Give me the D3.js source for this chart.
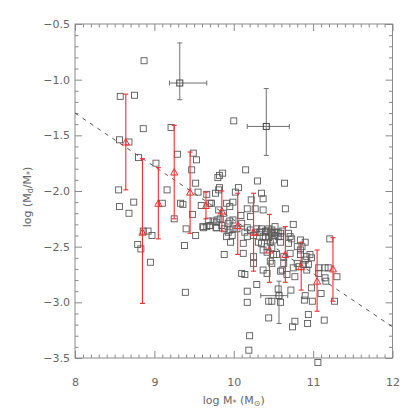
<!DOCTYPE html>
<html>
<head>
<meta charset="utf-8">
<script src="https://cdn.jsdelivr.net/npm/d3@7"></script>
<style>
body{margin:0;background:#fff;}
svg text{font-family:"DejaVu Sans",sans-serif;fill:#666;}
</style>
</head>
<body>
<div id="chart"></div>
<script>
// ---- data (log M*, log Md/M*) ----
const sqX = [8.87,8.57,8.75,8.86,9.21,10.0,8.56,8.68,
 8.80,9.02,9.29,9.49,9.53,9.47,9.80,9.52,9.55,9.16,8.55,8.74,8.56,8.68,9.10,9.33,9.36,9.48,9.59,9.70,9.25,9.61,9.70,9.78,9.79,9.40,9.52,8.86,8.92,8.97,8.79,8.83,9.38,8.95,9.81,9.39,
 9.86,9.82,10.15,10.30,10.64,9.82,10.06,9.66,9.77,10.02,10.35,10.37,10.22,9.72,9.91,9.99,9.95,9.81,9.87,10.17,10.27,10.37,10.65,10.09,10.21,
 9.62,9.70,9.78,9.85,9.93,9.99,10.10,10.17,10.29,10.33,10.42,10.48,10.61,9.91,9.98,10.17,10.25,10.40,10.56,10.71,
 9.96,10.12,10.31,10.46,10.59,10.69,10.80,11.21,9.88,10.12,10.25,10.42,10.54,10.71,10.92,10.25,10.46,10.63,10.82,10.94,11.07,11.15,
 10.10,10.14,10.42,10.59,11.15,
 10.29,10.17,10.17,10.44,10.48,10.59,10.44,10.20,10.19,11.06,10.72,10.77,10.74,10.93,10.94,10.90,10.89,10.99,10.98,11.10,11.14,11.16,11.27,10.56,
 9.83,9.78,9.66,9.99,9.93,10.14,10.51,
 10.75,10.84,10.90,10.86,10.69,10.73,10.96,10.98,10.88,10.63,10.50,10.48,10.37,10.61,10.67,10.75,10.92,11.19,11.07,11.30,10.77,10.80,
 10.84,10.90,10.84,
 9.68,9.74,9.95,9.88,9.95,10.04,10.21,10.27,10.33,10.40,10.46,10.52,10.59,
 10.35,10.40,10.44,10.48,10.37,10.44,10.50,10.35,10.42,10.48,10.37,10.52,10.56,10.59,10.52];
const sqY = [-0.83,-1.15,-1.14,-1.44,-1.43,-1.37,-1.54,-1.56,
 -1.70,-1.75,-1.67,-1.66,-1.72,-1.81,-1.88,-1.93,-2.01,-1.99,-1.99,-2.10,-2.14,-2.20,-2.11,-2.11,-2.12,-2.21,-2.13,-2.11,-2.25,-2.32,-2.31,-2.33,-2.26,-2.34,-2.40,-2.36,-2.36,-2.40,-2.48,-2.52,-2.49,-2.64,-1.99,-2.91,
 -1.84,-1.86,-1.81,-1.91,-1.93,-1.97,-1.97,-2.03,-2.02,-2.01,-2.02,-2.07,-2.08,-2.11,-2.11,-2.10,-2.14,-2.17,-2.20,-2.16,-2.16,-2.17,-2.16,-2.22,-2.23,
 -2.33,-2.31,-2.33,-2.31,-2.29,-2.26,-2.29,-2.33,-2.34,-2.37,-2.36,-2.35,-2.36,-2.41,-2.40,-2.41,-2.40,-2.41,-2.41,-2.41,
 -2.46,-2.47,-2.46,-2.46,-2.46,-2.47,-2.50,-2.43,-2.57,-2.56,-2.59,-2.55,-2.57,-2.56,-2.59,-2.65,-2.63,-2.65,-2.68,-2.66,-2.69,-2.69,
 -2.74,-2.75,-2.74,-2.72,-2.78,
 -2.84,-2.90,-3.00,-2.99,-2.99,-3.00,-3.14,-3.30,-3.43,-3.54,-2.89,-3.17,-3.22,-3.19,-3.11,-2.94,-2.98,-2.99,-2.87,-2.92,-3.16,-2.81,-2.99,-2.88,
 -2.25,-2.28,-2.32,-2.34,-2.37,-2.37,-2.37,
 -2.30,-2.44,-2.46,-2.50,-2.38,-2.43,-2.57,-2.60,-2.66,-2.59,-2.57,-2.65,-2.71,-2.71,-2.75,-2.69,-2.71,-2.69,-2.74,-2.77,-2.77,-2.65,
 -2.57,-2.62,-2.53,
 -2.27,-2.27,-2.27,-2.34,-2.35,-2.34,-2.35,-2.37,-2.37,-2.36,-2.37,-2.37,-2.38,
 -2.34,-2.37,-2.34,-2.38,-2.41,-2.42,-2.44,-2.47,-2.50,-2.51,-2.53,-2.32,-2.37,-2.41,-2.40];

// binned medians (red triangles) with ranges
const binX  = [8.64,8.85,9.05,9.25,9.45,9.65,9.85,10.05,10.25,10.45,10.65,10.85,11.05,11.25];
const binY  = [-1.56,-2.37,-2.11,-1.83,-2.01,-2.13,-2.18,-2.31,-2.37,-2.53,-2.57,-2.68,-2.81,-2.70];
const binHi = [-1.13,-1.71,-1.79,-1.41,-1.65,-2.01,-2.00,-2.02,-2.02,-2.21,-2.32,-2.46,-2.53,-2.42];
const binLo = [-1.99,-3.01,-2.43,-2.25,-2.38,-2.25,-2.36,-2.57,-2.72,-2.82,-2.82,-2.89,-3.08,-2.99];

// representative error crosses
const errX   = [9.32,10.41,10.57];
const errY   = [-1.03,-1.42,-2.94];
const errXlo = [9.19,10.17,10.34];
const errXhi = [9.66,10.70,10.68];
const errYlo = [-1.18,-1.68,-3.19];
const errYhi = [-0.67,-1.08,-2.81];

// fit line
const fitX = [8,12];
const fitY = [-1.30,-3.22];

const xTicks = [8,9,10,11,12];
const yTicks = [-3.5,-3.0,-2.5,-2.0,-1.5,-1.0,-0.5];

// ---- drawing ----
const W=415,H=415;
const L=75,R=392.5,T=24,B=358;
const svg=d3.select("#chart").append("svg").attr("width",W).attr("height",H);
const x=d3.scaleLinear().domain([8,12]).range([L,R]);
const y=d3.scaleLinear().domain([-3.5,-0.5]).range([B,T]);
const axisCol="#8a8a8a";

// frame
svg.append("rect").attr("x",L).attr("y",T).attr("width",R-L).attr("height",B-T)
  .attr("fill","none").attr("stroke",axisCol).attr("stroke-width",1);

// ticks (inward) via d3 axes
const minorX=d3.range(8,12.001,0.1).filter(v=>Math.abs(v-Math.round(v))>1e-6);
const minorY=d3.range(-3.5,-0.499,0.1).filter(v=>Math.abs(v*2-Math.round(v*2))>1e-6);
function styleAx(g){g.select(".domain").remove();g.selectAll("line").attr("stroke",axisCol);}
svg.append("g").attr("transform",`translate(0,${B})`).call(d3.axisBottom(x).tickValues(xTicks).tickSize(-7).tickFormat(d3.format("d")).tickPadding(20))
  .call(styleAx).call(g=>g.selectAll("text").attr("font-size",11).attr("fill","#666").attr("font-family","DejaVu Sans"));
svg.append("g").attr("transform",`translate(0,${B})`).call(d3.axisBottom(x).tickValues(minorX).tickSize(-3.5).tickFormat("")).call(styleAx);
svg.append("g").attr("transform",`translate(0,${T})`).call(d3.axisTop(x).tickValues(xTicks).tickSize(-7).tickFormat("")).call(styleAx);
svg.append("g").attr("transform",`translate(0,${T})`).call(d3.axisTop(x).tickValues(minorX).tickSize(-3.5).tickFormat("")).call(styleAx);
svg.append("g").attr("transform",`translate(${L},0)`).call(d3.axisLeft(y).tickValues(yTicks).tickSize(-7).tickFormat(d3.format(".1f")).tickPadding(5))
  .call(styleAx).call(g=>g.selectAll("text").attr("font-size",11).attr("fill","#666").attr("font-family","DejaVu Sans"));
svg.append("g").attr("transform",`translate(${L},0)`).call(d3.axisLeft(y).tickValues(minorY).tickSize(-3.5).tickFormat("")).call(styleAx);
svg.append("g").attr("transform",`translate(${R},0)`).call(d3.axisRight(y).tickValues(yTicks).tickSize(-7).tickFormat("")).call(styleAx);
svg.append("g").attr("transform",`translate(${R},0)`).call(d3.axisRight(y).tickValues(minorY).tickSize(-3.5).tickFormat("")).call(styleAx);

// plot group clipped
svg.append("clipPath").attr("id","clip").append("rect").attr("x",L).attr("y",T).attr("width",R-L).attr("height",B-T);

// fit line
svg.append("line").attr("clip-path","url(#clip)")
  .attr("x1",x(fitX[0])).attr("y1",y(fitY[0])).attr("x2",x(fitX[1])).attr("y2",y(fitY[1]))
  .attr("stroke","#444").attr("stroke-width",0.9).attr("stroke-dasharray","4,5");

// squares
const sq=6;
svg.append("g").selectAll("rect").data(sqX.map((v,i)=>[v,sqY[i]])).join("rect")
  .attr("x",d=>x(d[0])-sq/2).attr("y",d=>y(d[1])-sq/2).attr("width",sq).attr("height",sq)
  .attr("fill","none").attr("stroke","#5a5a5a").attr("stroke-width",0.9);

// error crosses
const cap=2.5;
const eg=svg.append("g").attr("stroke","#707070").attr("stroke-width",1).attr("fill","none");
errX.forEach((v,i)=>{
  eg.append("line").attr("x1",x(v)).attr("x2",x(v)).attr("y1",y(errYlo[i])).attr("y2",y(errYhi[i]));
  eg.append("line").attr("x1",x(errXlo[i])).attr("x2",x(errXhi[i])).attr("y1",y(errY[i])).attr("y2",y(errY[i]));
  [errYlo[i],errYhi[i]].forEach(e=>eg.append("line").attr("x1",x(v)-cap).attr("x2",x(v)+cap).attr("y1",y(e)).attr("y2",y(e)));
  [errXlo[i],errXhi[i]].forEach(e=>eg.append("line").attr("x1",x(e)).attr("x2",x(e)).attr("y1",y(errY[i])-cap).attr("y2",y(errY[i])+cap));
  eg.append("rect").attr("x",x(v)-sq/2).attr("y",y(errY[i])-sq/2).attr("width",sq).attr("height",sq).attr("stroke","#444");
});

// red medians
const red="#ff2a2a";
const rg=svg.append("g").attr("stroke",red).attr("stroke-width",1.1).attr("fill","none");
binX.forEach((v,i)=>{
  rg.append("line").attr("x1",x(v)).attr("x2",x(v)).attr("y1",y(binLo[i])).attr("y2",y(binHi[i]));
  [binLo[i],binHi[i]].forEach(e=>rg.append("line").attr("x1",x(v)-2.5).attr("x2",x(v)+2.5).attr("y1",y(e)).attr("y2",y(e)));
  const cx=x(v),cy=y(binY[i]);
  rg.append("path").attr("d",`M${cx-3.5},${cy+3} L${cx+3.5},${cy+3} L${cx},${cy-3.5} Z`).attr("stroke-width",1);
});

// axis titles
const xt=svg.append("text").attr("x",(L+R)/2).attr("y",404).attr("text-anchor","middle").attr("font-size",11);
xt.append("tspan").text("log M");
xt.append("tspan").text("*").attr("font-size",8).attr("dy",2);
xt.append("tspan").text(" (M").attr("dy",-2);
xt.append("tspan").text("⊙").attr("font-size",8).attr("dy",2);
xt.append("tspan").text(")").attr("dy",-2);

const yt=svg.append("text").attr("transform",`translate(31,197) rotate(-90)`).attr("text-anchor","middle").attr("font-size",11);
yt.append("tspan").text("log (M");
yt.append("tspan").text("d").attr("font-size",8).attr("dy",2);
yt.append("tspan").text("/M").attr("dy",-2);
yt.append("tspan").text("*").attr("font-size",8).attr("dy",2);
yt.append("tspan").text(")").attr("dy",-2);
</script>
</body>
</html>
